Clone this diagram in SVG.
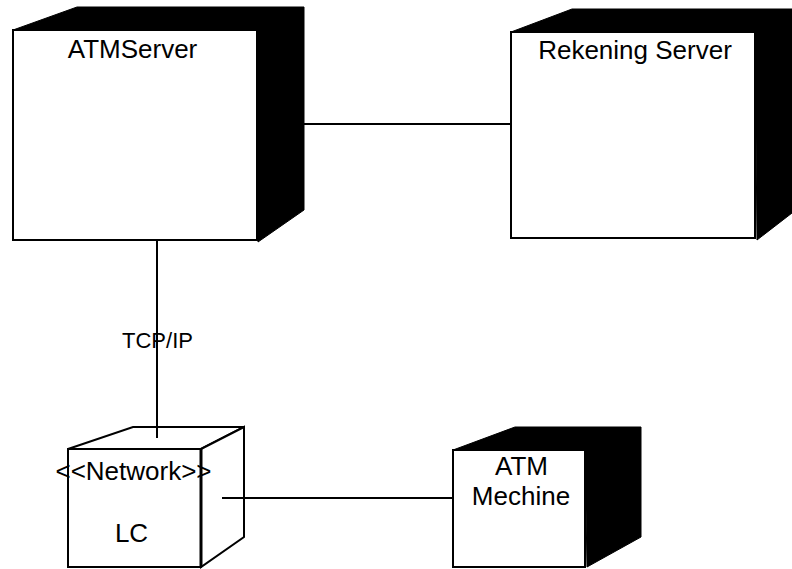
<svg xmlns="http://www.w3.org/2000/svg" width="792" height="569" viewBox="0 0 792 569">
<style>
.face{fill:#fff;stroke:#000;stroke-width:2}
.side{fill:#000;stroke:#000;stroke-width:1}
.conn{stroke:#000;stroke-width:2;fill:none}
text{font-family:"Liberation Sans",Arial,sans-serif;fill:#000;text-anchor:middle}
.lbl{font-size:26px}
</style>
<rect width="792" height="569" fill="#fff"/>
<g id="connectors">
<line class="conn" x1="304" y1="124" x2="511" y2="124"/>
<line class="conn" x1="157" y1="240" x2="157" y2="438"/>
<line class="conn" x1="222" y1="498" x2="453" y2="498"/>
<text x="157.5" y="348" font-size="22">TCP/IP</text>
</g>
<g id="ATMServer">
<polygon class="side" points="13,30 77,7 304,7 304,210 258,242 257,30"/>
<rect class="face" x="13" y="30" width="244" height="210"/>
<text class="lbl" x="132.5" y="58">ATMServer</text>
</g>
<g id="RekeningServer">
<polygon class="side" points="511,32 572,9 792,9 792,213 757,240 755,32"/>
<rect class="face" x="511" y="32" width="244" height="206"/>
<text class="lbl" x="635" y="59">Rekening Server</text>
</g>
<g id="LC">
<polygon class="face" points="68,449 133,427 244,427 201,449"/>
<polygon class="face" points="201,449 244,427 244,537 201,567"/>
<rect class="face" x="68" y="449" width="133" height="118"/>
<line x1="201" y1="449" x2="201" y2="567" stroke="#000" stroke-width="3"/>
<line class="conn" x1="157" y1="427" x2="157" y2="438"/>
<line class="conn" x1="222" y1="498" x2="244" y2="498"/>
<text class="lbl" x="133.5" y="480">&lt;&lt;Network&gt;&gt;</text>
<text class="lbl" x="131.5" y="542">LC</text>
</g>
<g id="ATMMechine">
<polygon class="side" points="453,450 515,427 641,427 641,537 587,567 585,450"/>
<rect class="face" x="453" y="450" width="132" height="117"/>
<text class="lbl" x="521.5" y="475">ATM</text>
<text class="lbl" x="521" y="505">Mechine</text>
</g>
</svg>
